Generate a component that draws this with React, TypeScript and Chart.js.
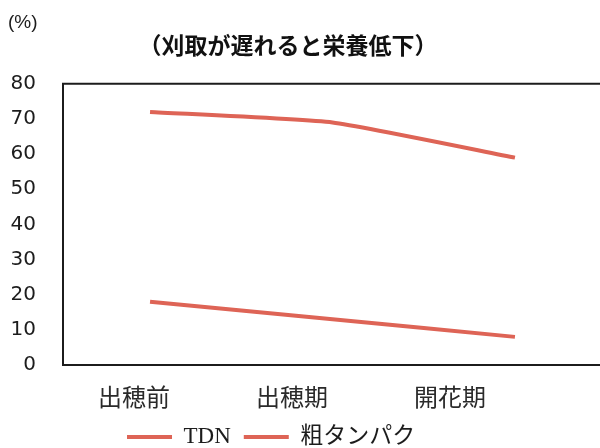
import { useEffect, useRef } from 'react';
import { Chart, registerables } from 'chart.js';

Chart.register(...registerables);

// Harvest stage on the horizontal axis
const CATEGORIES = ['出穂前', '出穂期', '開花期'];
// Nutrient content (%) at each stage
const TDN_VALUES = [72, 69, 59];
const CRUDE_PROTEIN_VALUES = [18, 13, 8];
const SERIES_NAMES = ['TDN', '粗タンパク'];
const Y_MIN = 0;
const Y_MAX = 80;
const Y_STEP = 10;
const UNIT_LABEL = '(%)';
const TITLE = '（刈取が遅れると栄養低下）';

const LINE_COLOR = '#de6456';
const INK = '#1c1c1c';

// Frame lines run out to the canvas edge; the heading is drawn left of centre.
const framePlugin = {
  id: 'frame',
  afterDraw(chart: Chart) {
    const { ctx, chartArea, width } = chart;
    ctx.save();
    ctx.strokeStyle = INK;
    ctx.lineWidth = 2;
    ctx.beginPath();
    ctx.moveTo(chartArea.left - 1, chartArea.top);
    ctx.lineTo(width, chartArea.top);
    ctx.moveTo(chartArea.left - 1, chartArea.bottom);
    ctx.lineTo(width, chartArea.bottom);
    ctx.stroke();
    ctx.font = 'bold 23px "Noto Sans CJK JP"';
    ctx.fillStyle = '#111';
    ctx.textAlign = 'center';
    ctx.textBaseline = 'middle';
    ctx.fillText(TITLE, 288, 45);
    ctx.restore();
  },
};

export default function App() {
  const canvasRef = useRef<HTMLCanvasElement>(null);

  useEffect(() => {
    const canvas = canvasRef.current;
    if (!canvas) return;
    const toPoints = (values: number[]) => values.map((y, x) => ({ x, y }));
    const chart = new Chart(canvas, {
      type: 'line',
      data: {
        datasets: [
          {
            label: SERIES_NAMES[0],
            data: toPoints(TDN_VALUES),
            borderColor: LINE_COLOR,
            backgroundColor: LINE_COLOR,
            borderWidth: 4,
            pointRadius: 0,
            tension: 0.15,
            xAxisID: 'x',
          },
          {
            label: SERIES_NAMES[1],
            data: toPoints(CRUDE_PROTEIN_VALUES),
            borderColor: LINE_COLOR,
            backgroundColor: LINE_COLOR,
            borderWidth: 4,
            pointRadius: 0,
            tension: 0.15,
            xAxisID: 'x',
          },
        ],
      },
      options: {
        responsive: false,
        animation: false,
        layout: { padding: { left: 8, right: 65.7, top: 0, bottom: -10.5 } },
        plugins: {
          title: {
            display: true,
            text: UNIT_LABEL,
            align: 'start',
            color: INK,
            font: { family: '"Liberation Sans Narrow", "Liberation Sans", sans-serif', size: 19, weight: 'normal' },
            padding: { top: 11, bottom: 50 },
          },
          legend: {
            position: 'bottom',
            labels: {
              usePointStyle: true,
              pointStyle: 'line',
              pointStyleWidth: 45,
              color: INK,
              padding: 13,
              font: { family: '"Liberation Serif", "Noto Sans CJK JP"', size: 23 },
            },
          },
          tooltip: { enabled: false },
        },
        scales: {
          x: {
            type: 'linear',
            display: false,
            min: -0.477,
            max: 2.106,
          },
          xl: {
            type: 'linear',
            position: 'bottom',
            min: -0.449,
            max: 2.534,
            afterBuildTicks: (scale: any) => {
              scale.ticks = CATEGORIES.map((_, i) => ({ value: i }));
            },
            afterFit: (scale: any) => {
              scale.height = 47.5;
            },
            ticks: {
              autoSkip: false,
              maxRotation: 0,
              padding: 17.5,
              color: '#2a2a2a',
              font: { family: '"Noto Sans CJK JP"', size: 24 },
              callback: (v: any) => CATEGORIES[Number(v)] ?? '',
            },
            grid: { display: false, drawTicks: false },
            border: { display: false },
          },
          y: {
            min: Y_MIN,
            max: Y_MAX,
            ticks: {
              stepSize: Y_STEP,
              padding: 27,
              color: INK,
              font: { family: '"DejaVu Sans"', size: 20 },
            },
            grid: { display: false, drawTicks: false },
            border: { display: true, color: INK, width: 2 },
            afterFit: (scale: any) => {
              scale.width = 55;
            },
          },
        },
      },
      plugins: [framePlugin],
    });
    return () => chart.destroy();
  }, []);

  return (
    <div style={{ position: 'absolute', left: 0, top: 0, width: 600, height: 448, background: '#fff' }}>
      <canvas ref={canvasRef} width={600} height={448} />
    </div>
  );
}
